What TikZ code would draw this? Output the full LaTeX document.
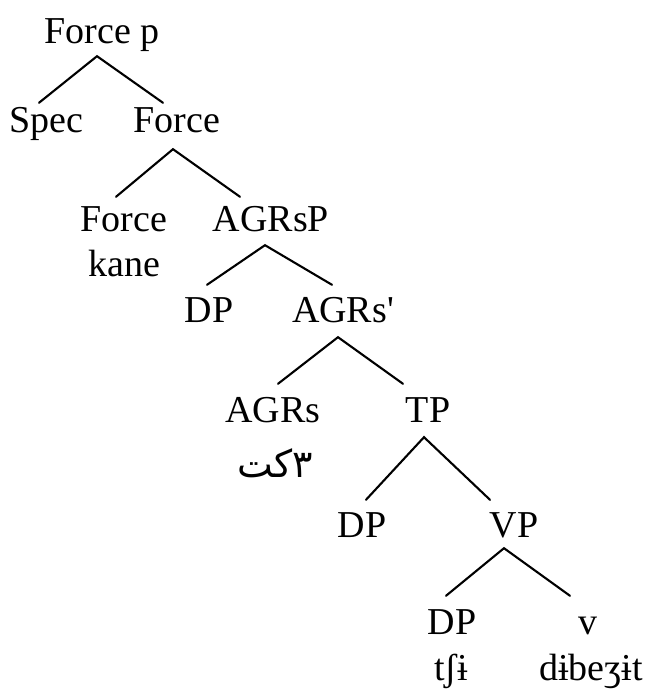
\documentclass[tikz,border=0pt]{standalone}
\usepackage{fontspec}
\setmainfont{Liberation Serif}[Ligatures=TeXOff]
\newfontfamily\arabicfont[Script=Arabic]{DejaVu Sans}
\TeXXeTstate=1
\usetikzlibrary{positioning,calc}
\tikzset{
  cat/.style={anchor=base, inner sep=0pt, text height=25pt, text depth=0pt, font=\fontsize{38}{40}\selectfont},
  word/.style={anchor=base, inner sep=0pt, font=\fontsize{38}{40}\selectfont},
  branch/.style={line width=2.1pt, line cap=round},
}

\begin{document}
\begin{tikzpicture}[x=1pt, y=1pt]
  \useasboundingbox (0,0) rectangle (649,689);

  \node[cat] (fp) at (102,645) {Force p};
  \node[cat] (spec) at (46,556) {Spec};
  \node[cat] (force) at (177,556) {Force};

  \node[cat] (forcehd) at (124,457) {Force};
  \node[word] (kane) at (124,412) {kane};
  \node[cat] (agrsp) at (271,457) {AGRsP};

  \node[cat] (dpa) at (209,366) {DP};
  \node[cat] (agrsbar) at (343,366) {AGRs'};

  \node[cat] (agrs) at (273,266) {AGRs};
  \node[anchor=base, inner sep=0pt, font=\arabicfont\fontsize{38}{40}\selectfont] (agrsword) at (275,211) {\beginR ٣كت\endR};
  \node[cat] (tp) at (428,266) {TP};

  \node[cat] (dpb) at (362,151) {DP};
  \node[cat] (vp) at (514,151) {VP};

  \node[cat] (dpc) at (452,54) {DP};
  \node[word] (dpcword) at (451,9) {tʃɨ};
  \node[cat] (vhd) at (588,54) {v};
  \node[word] (vword) at (591,9) {dɨbeʒɨt};

  \draw[branch] ([shift={(-7,5)}]spec.north) -- ([shift={(-5,-12)}]fp.south) -- ([shift={(-14,5)}]force.north);
  \draw[branch] ([shift={(-8,10)}]forcehd.north) -- ([shift={(-4,-16)}]force.south) -- ([shift={(-31,10)}]agrsp.north);
  \draw[branch] ([shift={(-2,13)}]dpa.north) -- ([shift={(-6,-13)}]agrsp.south) -- ([shift={(-11,13)}]agrsbar.north);
  \draw[branch] ([shift={(5,14)}]agrs.north) -- ([shift={(-5,-14)}]agrsbar.south) -- ([shift={(-25,14)}]tp.north);
  \draw[branch] ([shift={(4,13)}]dpb.north) -- ([shift={(-4,-14)}]tp.south) -- ([shift={(-24,13)}]vp.north);
  \draw[branch] ([shift={(-6,14)}]dpc.north) -- ([shift={(-10,-10)}]vp.south) -- ([shift={(-18,14)}]vhd.north);
\end{tikzpicture}
\end{document}
